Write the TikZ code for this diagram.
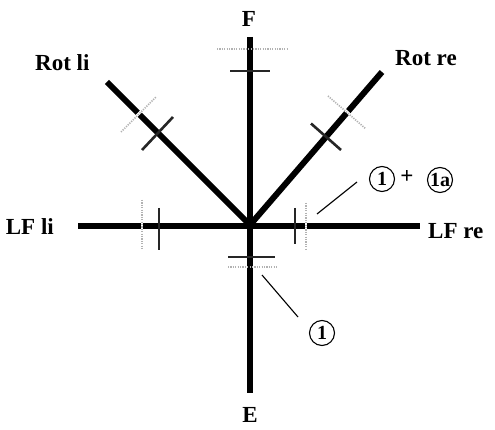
\documentclass[tikz,border=0pt]{standalone}
\usepackage{fontspec}
\setmainfont{Liberation Serif}
\usetikzlibrary{calc}
\begin{document}
\begin{tikzpicture}[x=1pt,y=-1pt,
 mainline/.style={line width=6pt},
 solidtick/.style={line width=2.6pt, black!85},
 dottick/.style={line width=1.6pt, black!30, dash pattern=on 1.2pt off 1.2pt},
 gapline/.style={line width=2.5pt, white},
 lbl/.style={font=\fontsize{23}{23}\selectfont\bfseries, inner sep=0pt},
 leader/.style={line width=1.1pt},
 circ/.style={circle, draw, line width=1.1pt, minimum size=25pt, inner sep=0pt, font=\fontsize{20}{20}\selectfont\bfseries}]
\fill[white] (0,0) rectangle (495,430);
\path[use as bounding box] (0,0) rectangle (495,430);
% axes end points
\coordinate (O) at (250,225);
\coordinate (Ft) at (250,37);
\coordinate (Eb) at (250,393);
\coordinate (Ll) at (78,226);
\coordinate (Lr) at (420,226);
\coordinate (Rl) at (107,82);
\coordinate (Rr) at (382,72);
% main lines
\draw[mainline] (Ft) -- (Eb);
\draw[mainline] (Ll) -- (Lr);
\draw[mainline] (O) -- (Rl);
\draw[mainline] (O) -- (Rr);
% gaps in the lines at the dotted marks
\draw[gapline] (142,221) -- (142,231);
\draw[gapline] (306,221) -- (306,231);
\draw[gapline] (134.5,118) -- (142.5,110);
\draw[gapline] (343,108) -- (351,115.5);
% dotted (grey) marks
\draw[dottick] (217,49) -- (288,49);
\draw[dottick] (228,267) -- (278,267);
\draw[dottick] (142,200) -- (142,250);
\draw[dottick] (306,203) -- (306,250);
\draw[dottick] (121,132) -- (156,97);
\draw[dottick] (328,96) -- (366,129);
% solid marks
\draw[solidtick] (230,71) -- (270,71);
\draw[solidtick] (228,257) -- (275,257);
\draw[solidtick] (159,208) -- (159,250);
\draw[solidtick] (295,208) -- (295,244);
\draw[solidtick] (142,150) -- (173,117);
\draw[solidtick] (311,123.5) -- (341,150);
% labels
\node[lbl] (F) at (249,19) {F};
\node[lbl] (E) at (250,415) {E};
\node[lbl, anchor=west] (rotli) at (35,63) {Rot li};
\node[lbl, anchor=west] (rotre) at (395,58) {Rot re};
\node[lbl, anchor=east] (lfli) at (54,227) {LF li};
\node[lbl, anchor=west] (lfre) at (428,231) {LF re};
% circled markers
\node[circ] (c1) at (382,179) {1};
\node[lbl] (plus) at (407,177) {+};
\node[circ] (c1a) at (440,180) {1a};
\node[circ] (c1b) at (322,333) {1};
% leader lines
\coordinate (la1) at (317,214);
\coordinate (la2) at (357,182);
\coordinate (lb1) at (262,275);
\coordinate (lb2) at (298,317);
\draw[leader] (la1) -- (la2);
\draw[leader] (lb1) -- (lb2);
\end{tikzpicture}
\end{document}
